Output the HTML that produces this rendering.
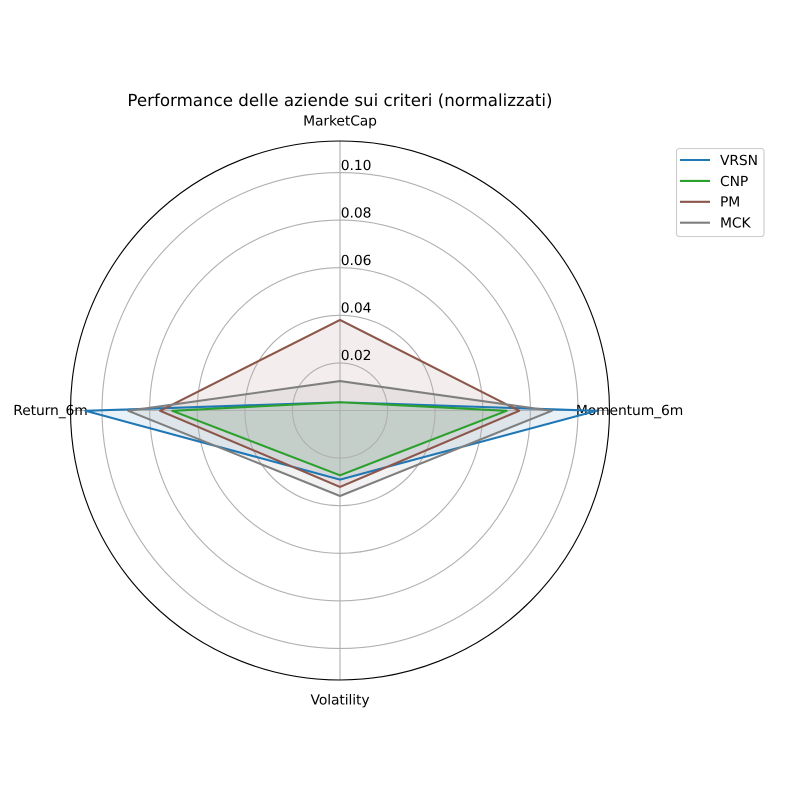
<!DOCTYPE html>
<html lang="it">
<head>
<meta charset="utf-8">
<title>Performance delle aziende sui criteri (normalizzati)</title>
<style>
  html, body { margin: 0; padding: 0; background: #ffffff; }
  #chart { display: block; width: 800px; height: 800px; }
  text { font-family: "DejaVu Sans", "Liberation Sans", sans-serif; fill: #000000; text-rendering: geometricPrecision; }
  #labels text, #legend text { letter-spacing: -0.1px; }
</style>
</head>
<body>
<svg id="chart" xmlns="http://www.w3.org/2000/svg" width="800" height="800" viewBox="0 0 800 800">
  <rect x="0" y="0" width="800" height="800" fill="#ffffff"/>
  <text x="340" y="106" text-anchor="middle" font-size="16.67">Performance delle aziende sui criteri (normalizzati)</text>
  <g id="fills"></g>
  <g id="grid"></g>
  <g id="labels"></g>
  <g id="lines"></g>
  <circle cx="340" cy="410.5" r="269.5" fill="none" stroke="#000000" stroke-width="1.11"/>
  <g id="legend"></g>
</svg>
<script>
const categories = ['MarketCap', 'Momentum_6m', 'Volatility', 'Return_6m'];
const tickValues = [0.02, 0.04, 0.06, 0.08, 0.10];
const tickLabels = ['0.02', '0.04', '0.06', '0.08', '0.10'];
const seriesNames = ['VRSN', 'CNP', 'PM', 'MCK'];
const vrsnValues = [0.0036, 0.1079, 0.0289, 0.1070];
const cnpValues = [0.0036, 0.0700, 0.0271, 0.0705];
const pmValues = [0.0382, 0.0753, 0.0320, 0.0756];
const mckValues = [0.0125, 0.0890, 0.0358, 0.0890];
const seriesValues = [vrsnValues, cnpValues, pmValues, mckValues];

const NS = 'http://www.w3.org/2000/svg';
const seriesColors = ['#1f77b4', '#2ca02c', '#8c564b', '#7f7f7f'];
const cx = 340, cy = 410.5, marksCy = 410.8, outerRadius = 269.5, domainMax = 0.11324;

function rScale(v) { return v / domainMax * outerRadius; }
function angleOf(i) { return i / categories.length * 2 * Math.PI; }
function polarX(i, r) { return cx + Math.sin(angleOf(i)) * r; }
function polarY(i, r) { return cy - Math.cos(angleOf(i)) * r; }
function make(tag, attrs, parent) {
  const el = document.createElementNS(NS, tag);
  for (const k in attrs) el.setAttribute(k, attrs[k]);
  parent.appendChild(el);
  return el;
}
function pointsFor(values) {
  return values.map((v, i) => polarX(i, rScale(v)).toFixed(2) + ',' + (polarY(i, rScale(v)) + marksCy - cy).toFixed(2)).join(' ');
}

const fills = document.getElementById('fills');
const grid = document.getElementById('grid');
const labels = document.getElementById('labels');
const lines = document.getElementById('lines');
const legend = document.getElementById('legend');

seriesValues.forEach((values, s) => {
  const poly = make('polygon', { points: pointsFor(values), fill: seriesColors[s], 'fill-opacity': 0.1, stroke: 'none' }, fills);
  
  
});

tickValues.forEach((t, i) => {
  const ring = make('circle', { cx: cx, cy: cy, r: rScale(t).toFixed(2), fill: 'none', stroke: '#b0b0b0', 'stroke-width': 1.11 }, grid);
  
  
});

categories.forEach((c, i) => {
  const spoke = make('line', { x1: cx, y1: cy, x2: polarX(i, outerRadius).toFixed(2), y2: polarY(i, outerRadius).toFixed(2), stroke: '#b0b0b0', 'stroke-width': 1.11 }, grid);
  
  
});

tickValues.forEach((t, i) => {
  const label = make('text', { x: cx + 0.8, y: (cy - rScale(t) - 2.7).toFixed(2), 'font-size': 13.89 }, labels);
  label.textContent = tickLabels[i];
  
  
});

categories.forEach((c, i) => {
  const label = make('text', { x: polarX(i, 289.5).toFixed(2), y: (polarY(i, 289.5) + 4.7).toFixed(2), 'text-anchor': 'middle', 'font-size': 13.89 }, labels);
  label.textContent = c;
  
  
});

seriesValues.forEach((values, s) => {
  const line = make('polygon', { points: pointsFor(values), fill: 'none', stroke: seriesColors[s], 'stroke-width': 2.08, 'stroke-linejoin': 'round' }, lines);
  
  
});

const box = make('rect', { x: 676.5, y: 148.5, width: 87.5, height: 88, rx: 2.8, ry: 2.8, fill: '#ffffff', 'fill-opacity': 0.8, stroke: '#cccccc', 'stroke-width': 1.11 }, legend);



seriesNames.forEach((name, s) => {
  const rowY = 160 + s * 20.9;
  const handle = make('line', { x1: 680, y1: rowY.toFixed(2), x2: 710, y2: rowY.toFixed(2), stroke: seriesColors[s], 'stroke-width': 2.08 }, legend);
  
  
  const label = make('text', { x: 720, y: (rowY + 4.9).toFixed(2), 'font-size': 13.89 }, legend);
  label.textContent = name;
  
  
});
</script>
</body>
</html>
